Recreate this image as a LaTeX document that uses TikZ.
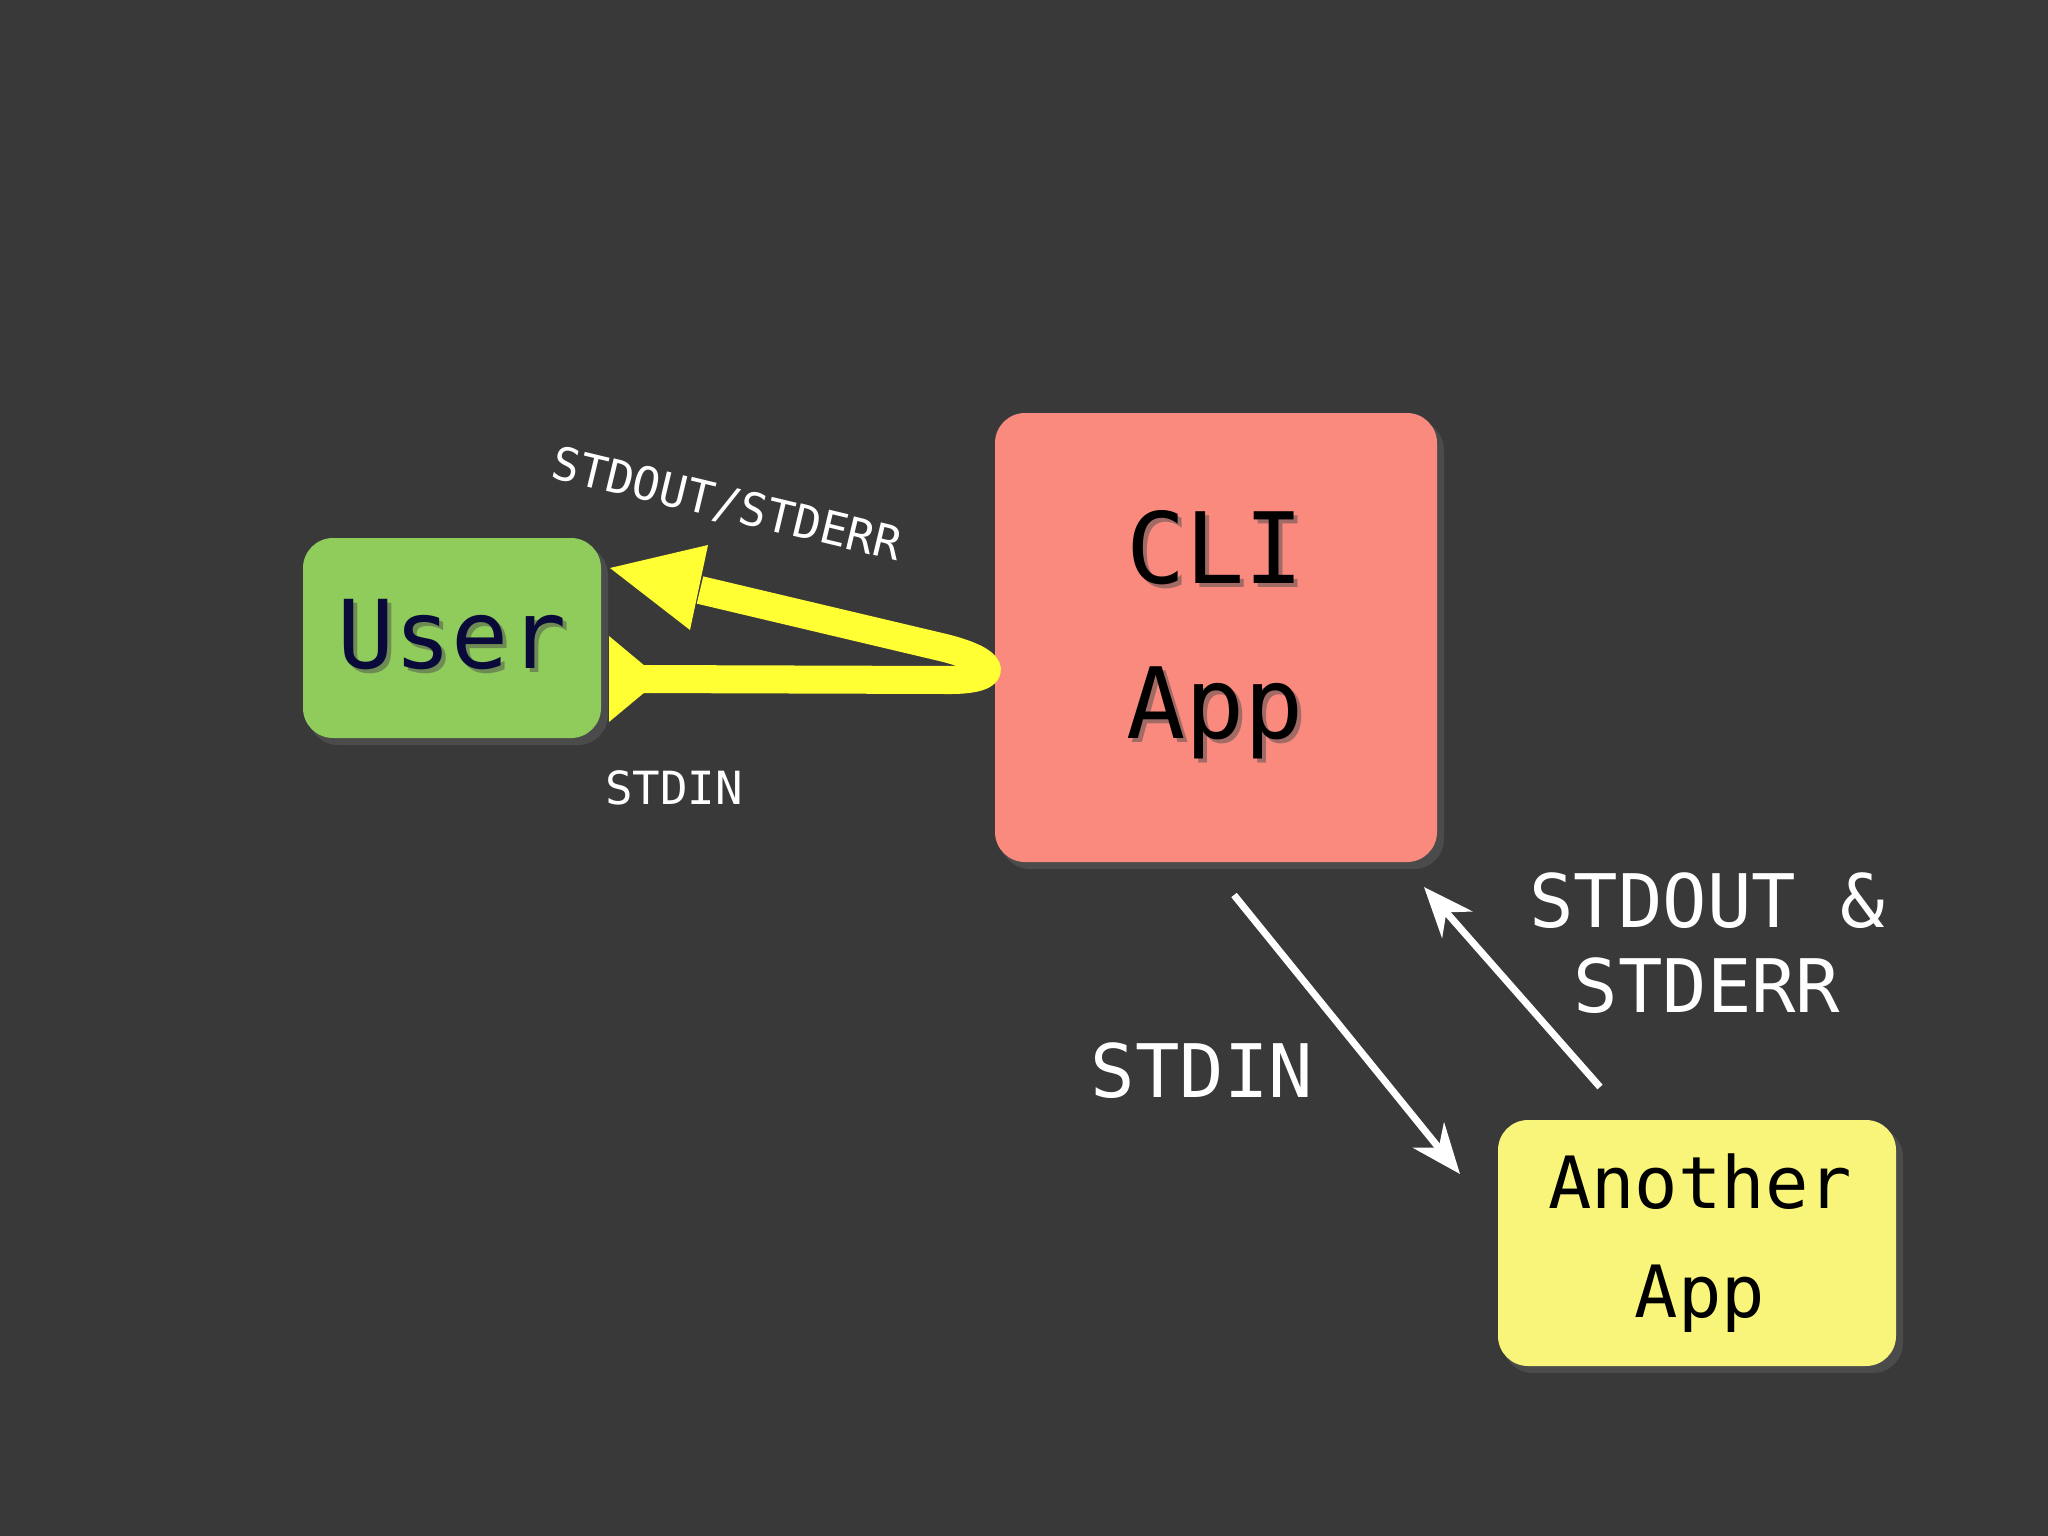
\documentclass[tikz,border=0pt]{standalone}
\usepackage{fontspec}
\usetikzlibrary{arrows.meta}
\setmainfont{DejaVu Sans Mono}
\begin{document}
\begin{tikzpicture}[x=0.01cm,y=-0.01cm,
  lbl/.style={text=white,font=\fontsize{13}{15}\selectfont},
  lbig/.style={text=white,font=\fontsize{21}{26}\selectfont},
  warr/.style={white,line width=0.07cm,-{Stealth[length=0.5cm,width=0.4cm]}}]
\definecolor{bg}{HTML}{3A393A}
\definecolor{ugreen}{HTML}{8FCC5B}
\definecolor{salmon}{HTML}{FA8A7E}
\definecolor{yel}{HTML}{F8F57A}
\definecolor{ylw}{HTML}{FFFF33}
\definecolor{navy}{HTML}{0A0A3A}
\fill[bg] (0,0) rectangle (2048,1536);
\useasboundingbox (0,0) rectangle (2048,1536);
% boxes
\fill[black!60,opacity=0.4,rounded corners=0.3cm] (308,545) rectangle (608,745);
\fill[black!60,opacity=0.4,rounded corners=0.3cm] (1000,420) rectangle (1444,869);
\fill[black!60,opacity=0.4,rounded corners=0.3cm] (1503,1127) rectangle (1903,1373);
\fill[ugreen,rounded corners=0.3cm] (303,538) rectangle (601,738);
\fill[salmon,rounded corners=0.3cm] (995,413) rectangle (1437,862);
\fill[yel,rounded corners=0.3cm] (1498,1120) rectangle (1896,1366);
\node[text=black!70,opacity=0.5,font=\fontsize{27}{32}\selectfont] at (456,639) {User};
\node[text=navy,font=\fontsize{27}{32}\selectfont] (user) at (452,635) {User};
\node[align=center,text=black!70,opacity=0.5,font=\fontsize{28}{44}\selectfont] at (1219,639) {CLI\\App};
\node[align=center,font=\fontsize{28}{44}\selectfont] (cli) at (1215,635) {CLI\\App};
\node[align=center,font=\fontsize{20.5}{31}\selectfont] (another) at (1700,1243) {Another\\App};
% yellow arrows
\draw[ylw,line width=0.28cm,line join=round] (700,590) -- (945,648) .. controls (1000,662) and (1000,680) .. (950,680) -- (640,679);
\fill[ylw] (610,568) -- (708,545) -- (690,630) -- cycle;
\fill[ylw] (609,636) -- (645,666) -- (645,692) -- (609,722) -- cycle;
% labels
\node[lbl,rotate=-13.5] (l1) at (727,505) {STDOUT/STDERR};
\node[lbl] (l2) at (674,788) {STDIN};
% white arrows
\coordinate (a1) at (1234,895); \coordinate (a2) at (1460,1174);
\coordinate (b1) at (1600,1087); \coordinate (b2) at (1424,887);
\draw[warr] (a1) -- (a2);
\draw[warr] (b1) -- (b2);
\node[lbig] (l3) at (1202,1071) {STDIN};
\node[lbig,align=center] (l4) at (1707,943) {STDOUT \&\\[-2pt]STDERR};
\end{tikzpicture}
\end{document}
